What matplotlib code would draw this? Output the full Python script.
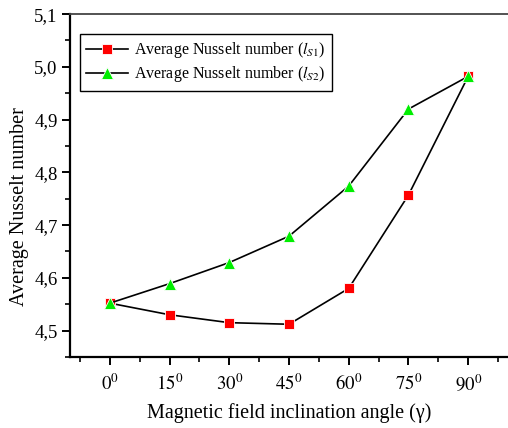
import matplotlib.pyplot as plt
from matplotlib.ticker import MultipleLocator, FuncFormatter

plt.rcParams['font.family'] = 'Liberation Serif'
plt.rcParams['mathtext.fontset'] = 'stix'

angles = [0, 15, 30, 45, 60, 75, 90]
nu_s1 = [4.552, 4.530, 4.515, 4.512, 4.580, 4.757, 4.982]
nu_s2 = [4.552, 4.589, 4.629, 4.679, 4.774, 4.920, 4.982]
angle_labels = [r'$%d^0$' % a for a in angles]

fig = plt.figure(figsize=(5.08, 4.28), dpi=100)
ax = fig.add_axes([0.1378, 0.166, 0.8622, 0.801])

ax.plot(angles, nu_s1, color='black', lw=1.2, marker='s', ms=7.8,
        mfc='#ff0000', mec='white', mew=0.6,
        label=r'Average Nusselt number ($l_{S1}$)')
ax.plot(angles, nu_s2, color='black', lw=1.2, marker='^', ms=8.8,
        mfc='#00ee00', mec='white', mew=0.6,
        label=r'Average Nusselt number ($l_{S2}$)')

ax.set_xlim(-10, 100)
ax.set_ylim(4.45, 5.1)
ax.set_xticks(angles)
ax.set_xticklabels(angle_labels)
ax.xaxis.set_minor_locator(MultipleLocator(7.5))
ax.yaxis.set_major_locator(MultipleLocator(0.1))
ax.yaxis.set_minor_locator(MultipleLocator(0.05))
ax.yaxis.set_major_formatter(FuncFormatter(lambda v, p: ('%.1f' % v).replace('.', ',')))

ax.spines['right'].set_visible(False)
ax.spines['left'].set_linewidth(1.6)
ax.spines['bottom'].set_linewidth(1.6)
ax.spines['top'].set_linewidth(1.3)
ax.spines['top'].set_color('#444444')

ax.tick_params(which='major', direction='out', length=6, width=1.4, labelsize=13.5, pad=3)
ax.tick_params(which='minor', direction='out', length=3.5, width=1.2)
ax.tick_params(axis='x', which='major', pad=6)
ax.tick_params(top=False, right=False, which='both')

ax.set_xlabel('Magnetic field inclination angle (\u03b3)', fontsize=14.5, labelpad=6)
ax.set_ylabel('Average Nusselt number', fontsize=14.5)
ax.yaxis.set_label_coords(-0.094, 0.44)

leg = ax.legend(loc='upper left', bbox_to_anchor=(0.0, 0.97), fontsize=11.5,
                frameon=True, fancybox=False, edgecolor='black', framealpha=1,
                handlelength=2.6, borderpad=0.4, labelspacing=0.25, handletextpad=0.4,
                borderaxespad=0.6)
leg.get_frame().set_linewidth(1.0)

fig.savefig('out.png', dpi=100)
